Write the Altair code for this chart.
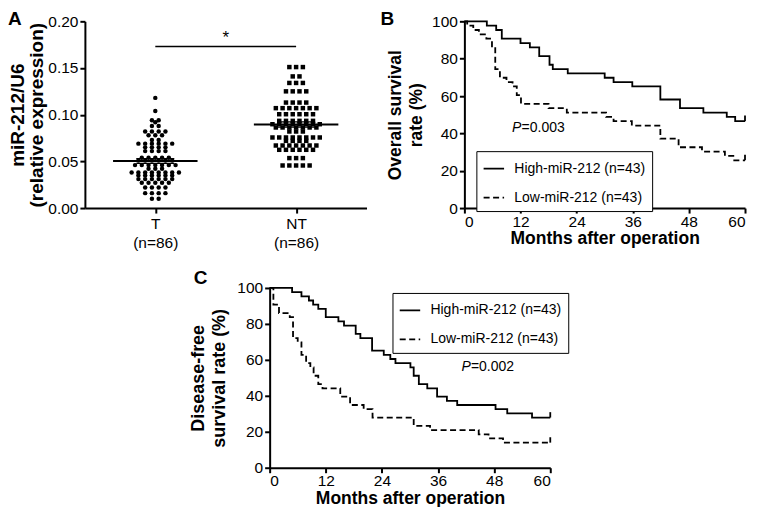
import altair as alt
import pandas as pd

FONT = "Liberation Sans"

# ---------------- Panel A data ----------------
group_names = ["T", "NT"]
group_pos = [1, 3]
t_levels = [0.118, 0.104, 0.094, 0.092, 0.088, 0.082, 0.078, 0.073, 0.069, 0.065, 0.061,
            0.054, 0.051, 0.046, 0.042, 0.038, 0.035, 0.031, 0.027, 0.022, 0.016, 0.010]
t_counts = [1, 1, 2, 1, 2, 4, 3, 2, 6, 4, 4, 5, 6, 7, 3, 8, 6, 6, 5, 4, 4, 2]
nt_levels = [0.151, 0.141, 0.134, 0.125, 0.113, 0.107, 0.1005, 0.0934, 0.0898, 0.0863,
             0.082, 0.0756, 0.072, 0.067, 0.0624, 0.0535, 0.0456]
nt_counts = [3, 2, 3, 4, 4, 7, 6, 6, 8, 7, 3, 8, 4, 7, 6, 3, 5]
a_ticks = [0.0, 0.05, 0.10, 0.15, 0.20]
sig_x = [1, 3]
sig_y = 0.173
star_y = 0.182

# ---------------- Panel B data (overall survival) ----------------
os_high_m = [0, 4.8, 6.8, 8.0, 12.0, 14.0, 16.0, 18.2, 18.9, 22.1, 30.0, 31.9, 35.9, 41.9, 46.1, 51.1, 56.1, 57.9, 60]
os_high_s = [100, 97.67, 95.35, 90.70, 88.37, 86.05, 81.40, 76.74, 74.42, 72.09, 69.77, 67.44, 65.12, 58.14, 53.49, 51.16, 48.84, 46.51, 46.51]
os_low_m = [0, 0.6, 1.9, 3.1, 4.7, 5.9, 6.6, 7.6, 9.0, 10.3, 11.2, 12.1, 18.0, 21.9, 30.3, 31.9, 35.8, 41.9, 45.8, 50.8, 55.7, 57.5, 60]
os_low_s = [100, 97.67, 95.35, 93.02, 90.70, 86.05, 74.42, 69.77, 67.44, 65.12, 60.47, 55.81, 53.49, 51.16, 48.84, 46.51, 44.19, 37.21, 32.56, 30.23, 27.91, 25.58, 25.58]

# ---------------- Panel C data (disease-free survival) ----------------
dfs_high_m = [0, 4.8, 6.8, 8.4, 9.3, 10.4, 12.0, 14.7, 15.9, 18.4, 19.4, 21.9, 24.4, 25.8, 26.9, 30.1, 30.8, 31.9, 33.7, 35.8, 37.9, 40.1, 48.3, 50.8, 56.1, 60]
dfs_high_s = [100, 97.67, 95.35, 93.02, 90.70, 88.37, 83.72, 81.40, 79.07, 74.42, 72.09, 65.12, 62.79, 60.47, 58.14, 55.81, 51.16, 46.51, 44.19, 39.53, 37.21, 34.88, 32.56, 30.23, 27.91, 27.91]
dfs_low_m = [0, 0.8, 2.0, 4.3, 5.0, 6.0, 6.8, 7.8, 8.7, 9.4, 10.4, 11.3, 15.1, 17.2, 20.1, 22.0, 30.8, 34.3, 44.7, 46.8, 49.9, 60]
dfs_low_s = [100, 90.70, 86.05, 83.72, 72.09, 69.77, 62.79, 58.14, 55.81, 51.16, 46.51, 44.19, 39.53, 34.88, 32.56, 27.91, 23.26, 20.93, 18.60, 16.28, 13.95, 13.95]

series_names = ["High-miR-212 (n=43)", "Low-miR-212 (n=43)"]
km_ticks_x = [0, 12, 24, 36, 48, 60]
km_ticks_y = [0, 20, 40, 60, 80, 100]
p_os = ["P", "=0.003"]
p_os_pos = [10.2, 42.8]
p_dfs = ["P", "=0.002"]
p_dfs_pos = [41.0, 55.9]

one = pd.DataFrame({"k": [0]})

# ---------------- helpers ----------------
def anchor(x1, x2, y):
    return alt.Chart(one).mark_rule(strokeOpacity=0, strokeWidth=1).encode(
        x=alt.value(x1), x2=alt.value(x2), y=alt.value(y))

def letter(txt, x, y):
    return alt.Chart(one).mark_text(
        font=FONT, fontSize=19, fontWeight="bold", align="left", baseline="top", color="black"
    ).encode(x=alt.value(x), y=alt.value(y), text=alt.value(txt))

# ---------------- Panel A ----------------
spacing = 0.096
rows = []
for g, pos, levels, counts in [("T", group_pos[0], t_levels, t_counts),
                               ("NT", group_pos[1], nt_levels, nt_counts)]:
    for lv, c in zip(levels, counts):
        for i in range(c):
            rows.append({"group": g, "pos": pos, "value": lv,
                         "xpos": pos + (i - (c - 1) / 2) * spacing})
dfA = pd.DataFrame(rows)

xA_scale = alt.Scale(domain=[0, 4], nice=False, zero=False)
yA_scale = alt.Scale(domain=[0, 0.2], nice=False)
xA_axis = alt.Axis(values=group_pos, title=None, labelLineHeight=19, labelPadding=3,
                   labelExpr="datum.value == 1 ? ['T', '(n=86)'] : ['NT', '(n=86)']")
yA_axis = alt.Axis(values=a_ticks, format=".2f", title=["miR-212/U6", "(relative expression)"],
                   titleFontSize=19, titleLineHeight=19, titlePadding=1)

def XA(f):
    return alt.X(f, type="quantitative", scale=xA_scale, axis=xA_axis)

def YA(f):
    return alt.Y(f, type="quantitative", scale=yA_scale, axis=yA_axis)

pointsA = alt.Chart(dfA).mark_point(filled=True, opacity=1, color="black", size=20).encode(
    x=XA("xpos"), y=YA("value"),
    shape=alt.Shape("group:N", scale=alt.Scale(domain=group_names, range=["circle", "square"]), legend=None))

statsA = alt.Chart(dfA).transform_aggregate(
    m="mean(value)", se="stderr(value)", groupby=["group", "pos"]
).transform_calculate(
    mx1="datum.pos - 0.6", mx2="datum.pos + 0.6",
    sx1="datum.pos - 0.27", sx2="datum.pos + 0.27",
    hi="datum.m + datum.se", lo="datum.m - datum.se")

meanA = statsA.mark_rule(color="black", strokeWidth=2).encode(x=XA("mx1"), x2="mx2:Q", y=YA("m"))
semHiA = statsA.mark_rule(color="black", strokeWidth=1.4).encode(x=XA("sx1"), x2="sx2:Q", y=YA("hi"))
semLoA = statsA.mark_rule(color="black", strokeWidth=1.4).encode(x=XA("sx1"), x2="sx2:Q", y=YA("lo"))

sigdf = pd.DataFrame({"x1": [sig_x[0]], "x2": [sig_x[1]], "y": [sig_y], "xs": [sum(sig_x) / 2], "ys": [star_y]})
sigA = alt.Chart(sigdf).mark_rule(color="black", strokeWidth=1.4).encode(x=XA("x1"), x2="x2:Q", y=YA("y"))
starA = alt.Chart(sigdf).mark_text(font=FONT, fontSize=17, color="black", baseline="middle").encode(
    x=XA("xs"), y=YA("ys"), text=alt.value("*"))

chartA = alt.layer(
    anchor(-77, -70, -13), anchor(280, 287, 237), letter("A", -77, -11),
    sigA, starA, pointsA, meanA, semHiA, semLoA
).properties(width=282, height=187)

# ---------------- KM panels ----------------
def km_df(hm, hs, lm, ls):
    r = []
    for name, ms, ss in [(series_names[0], hm, hs), (series_names[1], lm, ls)]:
        for i, (m, s) in enumerate(zip(ms, ss)):
            r.append({"group": name, "month": m, "surv": s, "idx": i})
    return pd.DataFrame(r)

def km_panel(df, ytitle, title_size, ypad, legend_xy, ptxt, ppos, let, let_xy, anchors, height):
    xs = alt.Scale(domain=[0, 60], nice=False)
    ys = alt.Scale(domain=[0, 100], nice=False)
    xax = alt.Axis(values=km_ticks_x, title="Months after operation", titleFontSize=17.5,
                   titlePadding=0, labelPadding=1)
    yax = alt.Axis(values=km_ticks_y, title=ytitle, titleFontSize=title_size, titleLineHeight=21,
                   titlePadding=ypad)
    X = lambda f: alt.X(f, type="quantitative", scale=xs, axis=xax)
    Y = lambda f: alt.Y(f, type="quantitative", scale=ys, axis=yax)
    lines = alt.Chart(df).mark_line(interpolate="step-after", strokeWidth=1.8, color="black").encode(
        x=X("month"), y=Y("surv"), order="idx:Q",
        strokeDash=alt.StrokeDash("group:N", scale=alt.Scale(domain=series_names, range=[[1, 0], [6, 3.5]]),
                                  legend=alt.Legend(title=None, orient="none", legendX=legend_xy[0],
                                                    legendY=legend_xy[1], strokeColor="black",
                                                    fillColor="white", padding=6, labelFont=FONT,
                                                    labelFontSize=14, labelColor="black",
                                                    symbolType="stroke", symbolSize=420,
                                                    symbolStrokeWidth=1.8, symbolStrokeColor="black",
                                                    rowPadding=10, labelOffset=9)))
    last = df.sort_values("idx").groupby("group").tail(1)
    censor = alt.Chart(last).transform_calculate(top="datum.surv + 3").mark_rule(
        color="black", strokeWidth=1.8).encode(x=X("month"), y=Y("surv"), y2="top:Q")
    pdf = pd.DataFrame({"month": [ppos[0]], "surv": [ppos[1]], "a": [ptxt[0]], "b": [ptxt[1]]})
    pa = alt.Chart(pdf).mark_text(font=FONT, fontSize=14, fontStyle="italic", align="left",
                                  baseline="middle", color="black").encode(x=X("month"), y=Y("surv"), text="a:N")
    pb = alt.Chart(pdf).mark_text(font=FONT, fontSize=14, align="left", dx=9.5,
                                  baseline="middle", color="black").encode(x=X("month"), y=Y("surv"), text="b:N")
    return alt.layer(*anchors, letter(let, *let_xy), lines, censor, pa, pb).properties(width=281, height=height)

chartB = km_panel(km_df(os_high_m, os_high_s, os_low_m, os_low_s), ["Overall survival", "rate (%)"], 17.5, 6,
                  (12, 130), p_os, p_os_pos, "B", (-84, -11), [anchor(-87, -83, -13)], 187)
chartC = km_panel(km_df(dfs_high_m, dfs_high_s, dfs_low_m, dfs_low_s), ["Disease-free", "survival rate (%)"], 18, 8,
                  (123, 5), p_dfs, p_dfs_pos, "C", (-76, -19), [anchor(-78, -72, -30)], 180)

spacer = alt.Chart(one).mark_rule(strokeOpacity=0, strokeWidth=1).encode(
    x=alt.value(0), x2=alt.value(99), y=alt.value(0)).properties(width=99, height=1)

row1 = alt.hconcat(chartA, chartB, spacing=6).resolve_scale(
    strokeDash="independent", shape="independent"
).resolve_legend(strokeDash="independent", shape="independent")
row2 = alt.hconcat(spacer, chartC, spacing=6).resolve_scale(
    strokeDash="independent"
).resolve_legend(strokeDash="independent")
chart = alt.vconcat(row1, row2, spacing=0).resolve_scale(
    strokeDash="independent", shape="independent"
).resolve_legend(strokeDash="independent", shape="independent").properties(
    padding=0, background="white"
).configure_axis(
    domainColor="black", domainWidth=2, tickColor="black", tickWidth=2, tickSize=5,
    labelColor="black", labelFont=FONT, labelFontSize=15.5, labelPadding=2,
    titleFont=FONT, titleFontWeight="bold", titleColor="black", grid=False
).configure_view(stroke=None)

chart.save("out.html", embed_options={"renderer": "svg", "actions": False})
